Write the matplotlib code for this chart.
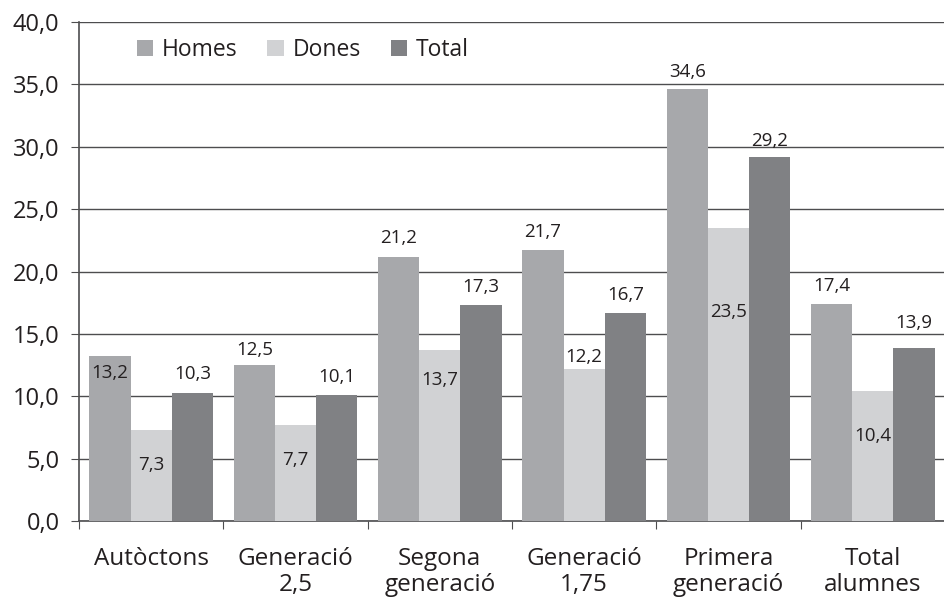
import numpy as np
import matplotlib.pyplot as plt

plt.rcParams['font.family'] = ['Open Sans', 'DejaVu Sans']

# Data
categories = ['Autòctons', 'Generació\n2,5', 'Segona\ngeneració', 'Generació\n1,75',
              'Primera\ngeneració', 'Total\nalumnes']
homes = [13.2, 12.5, 21.2, 21.7, 34.6, 17.4]
dones = [7.3, 7.7, 13.7, 12.2, 23.5, 10.4]
total = [10.3, 10.1, 17.3, 16.7, 29.2, 13.9]
series_names = ['Homes', 'Dones', 'Total']

# label placement (y in data units) as in the original layout
label_y = [
    [11.85, 13.7, 22.7, 23.2, 36.0, 18.8],
    [4.5, 4.9, 11.3, 13.15, 16.75, 6.8],
    [11.8, 11.55, 18.75, 18.1, 30.5, 15.9],
]

colors = ['#a7a8ab', '#d1d2d4', '#808184']
bar_w = 0.285

fig = plt.figure(figsize=(9.45, 5.97), dpi=100)
ax = fig.add_axes([0.0836, 0.1273, 0.9164, 0.8358])

x = np.arange(len(categories))
for i, (vals, name) in enumerate(zip([homes, dones, total], series_names)):
    pos = x + (i - 1) * bar_w
    ax.bar(pos, vals, width=bar_w, color=colors[i], label=name, zorder=3)
    for px, v, ly in zip(pos, vals, label_y[i]):
        ax.text(px, ly, f'{v:.1f}'.replace('.', ','), ha='center', va='center',
                fontsize=13.5, color='#231f20', zorder=4)

ax.set_xlim(-0.5, len(categories) - 0.5)
ax.set_ylim(0, 40)
ax.set_yticks(np.arange(0, 41, 5))
ax.set_yticklabels([f'{t:.1f}'.replace('.', ',') for t in np.arange(0, 41, 5)],
                   fontsize=17, color='#231f20')
ax.yaxis.grid(True, color='#4d4d4f', linewidth=1.0, zorder=0)
ax.set_axisbelow(True)

ax.set_xticks(np.arange(-0.5, len(categories), 1.0))
ax.set_xticklabels([])
ax.set_xticks(x, minor=True)
ax.set_xticklabels(categories, minor=True, fontsize=17.5, color='#231f20',
                   linespacing=1.08)
ax.tick_params(axis='x', which='minor', length=0, pad=19)
ax.tick_params(axis='x', which='major', length=6, color='#4d4d4f')
ax.tick_params(axis='y', length=6, color='#4d4d4f', pad=8)

for s in ['top', 'right']:
    ax.spines[s].set_visible(False)
for s in ['left', 'bottom']:
    ax.spines[s].set_color('#4d4d4f')
    ax.spines[s].set_linewidth(1.2)

ax.legend(loc='upper left', bbox_to_anchor=(0.043, 1.01), ncol=3, frameon=False,
          fontsize=16.5, handlelength=0.7, handleheight=0.7, handletextpad=0.4,
          columnspacing=1.3, labelcolor='#231f20')

fig.savefig('out.png', dpi=100)
